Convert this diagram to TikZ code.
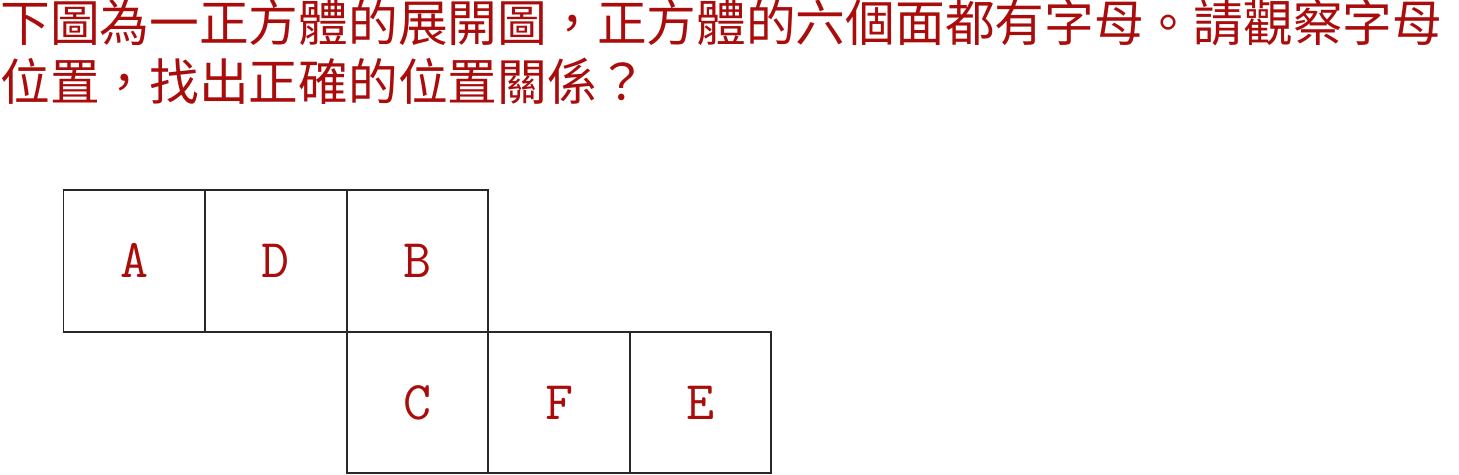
\documentclass[tikz,border=0pt]{standalone}
\usepackage{fontspec}
\usepackage{tikz}
\usetikzlibrary{positioning}
\newfontfamily\tcfont{Noto Sans CJK TC}
\definecolor{qred}{RGB}{170,12,12}
\definecolor{gridline}{RGB}{40,40,40}

\begin{document}
\begin{tikzpicture}[x=0.02cm, y=-0.02cm,
    face/.style={draw=gridline, line width=1.1pt, minimum size=2.832cm,
                 inner sep=0pt, outer sep=0pt, text=qred,
                 font=\fontsize{31}{36}\selectfont\ttfamily},
    title/.style={anchor=base west, inner sep=0pt, text=qred,
                  font=\fontsize{28.3}{34}\selectfont\tcfont}]
  \useasboundingbox (0,0) rectangle (1459,474);

  % question text
  \node[title] (line1) at (0,41) {下圖為一正方體的展開圖，正方體的六個面都有字母。請觀察字母};
  \node[title] (line2) at (0,100) {位置，找出正確的位置關係？};

  % the net of the cube
  \node[face] (A) at (134.3,260.8) {A};
  \node[face, right=0pt of A] (D) {D};
  \node[face, right=0pt of D] (B) {B};
  \node[face, below=0pt of B] (C) {C};
  \node[face, right=0pt of C] (F) {F};
  \node[face, right=0pt of F] (E) {E};
\end{tikzpicture}
\end{document}
